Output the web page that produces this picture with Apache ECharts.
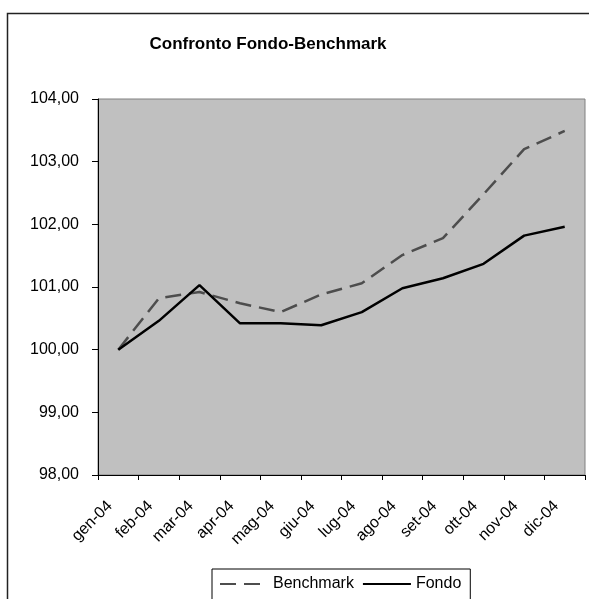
<!DOCTYPE html>
<html>
<head>
<meta charset="utf-8">
<script src="https://cdn.jsdelivr.net/npm/echarts@6/dist/echarts.min.js"></script>
<style>html,body{margin:0;padding:0;background:#fff;}#c{width:589px;height:599px;}</style>
</head>
<body>
<div id="c"></div>
<script>
var categories = ['gen-04','feb-04','mar-04','apr-04','mag-04','giu-04','lug-04','ago-04','set-04','ott-04','nov-04','dic-04'];
var benchmark = [100.00, 100.82, 100.92, 100.74, 100.60, 100.88, 101.06, 101.51, 101.78, 102.48, 103.20, 103.49];
var fondo = [100.00, 100.46, 101.03, 100.42, 100.42, 100.39, 100.60, 100.98, 101.14, 101.37, 101.82, 101.96];
var yMin = 98, yMax = 104, yStep = 1;

var FONT = '"Liberation Sans", Arial, sans-serif';
var chart = echarts.init(document.getElementById('c'));
chart.setOption({
  animation: false,
  backgroundColor: '#fff',
  graphic: [
    { type: 'rect', shape: { x: 7.5, y: 13.5, width: 620, height: 620 }, style: { fill: 'none', stroke: '#222', lineWidth: 1.5 }, z: -1 },
    { type: 'text', x: 268, y: 44, style: { text: 'Confronto Fondo-Benchmark', font: 'bold 17px ' + FONT, fill: '#000', textAlign: 'center', textVerticalAlign: 'middle' } }
  ],
  grid: { left: 98, right: 4, top: 99, bottom: 124, show: true, backgroundColor: '#c0c0c0', borderColor: '#808080', borderWidth: 1 },
  legend: {
    left: 212, top: 569, padding: [7, 9, 9, 7],
    itemWidth: 48, itemHeight: 14, itemGap: 8,
    borderColor: '#000', borderWidth: 1, backgroundColor: '#fff',
    itemStyle: { opacity: 0 },
    textStyle: { fontSize: 16, fontFamily: FONT, color: '#000' },
    data: ['Benchmark', 'Fondo']
  },
  xAxis: {
    type: 'category', data: categories, boundaryGap: true,
    axisLine: { lineStyle: { color: '#000', width: 1 } },
    axisTick: { show: true, length: 5, lineStyle: { color: '#000' } },
    axisLabel: { rotate: 45, fontSize: 16, fontFamily: FONT, color: '#000', margin: 20, padding: [0, 12, 0, 0] },
    splitLine: { show: false }
  },
  yAxis: {
    type: 'value', min: yMin, max: yMax, interval: yStep,
    axisLine: { show: true, lineStyle: { color: '#000', width: 1 } },
    axisTick: { show: true, length: 6, lineStyle: { color: '#000' } },
    axisLabel: { fontSize: 16, fontFamily: FONT, color: '#000', margin: 19,
      formatter: function (v) { return v.toFixed(2).replace('.', ','); } },
    splitLine: { show: false }
  },
  series: [
    { name: 'Benchmark', type: 'line', data: benchmark, symbol: 'none',
      itemStyle: { color: '#4d4d4d' },
      lineStyle: { color: '#4d4d4d', width: 2.5, type: [16, 8] } },
    { name: 'Fondo', type: 'line', data: fondo, symbol: 'none',
      itemStyle: { color: '#000' },
      lineStyle: { color: '#000', width: 2.5 } }
  ]
});
</script>
</body>
</html>
